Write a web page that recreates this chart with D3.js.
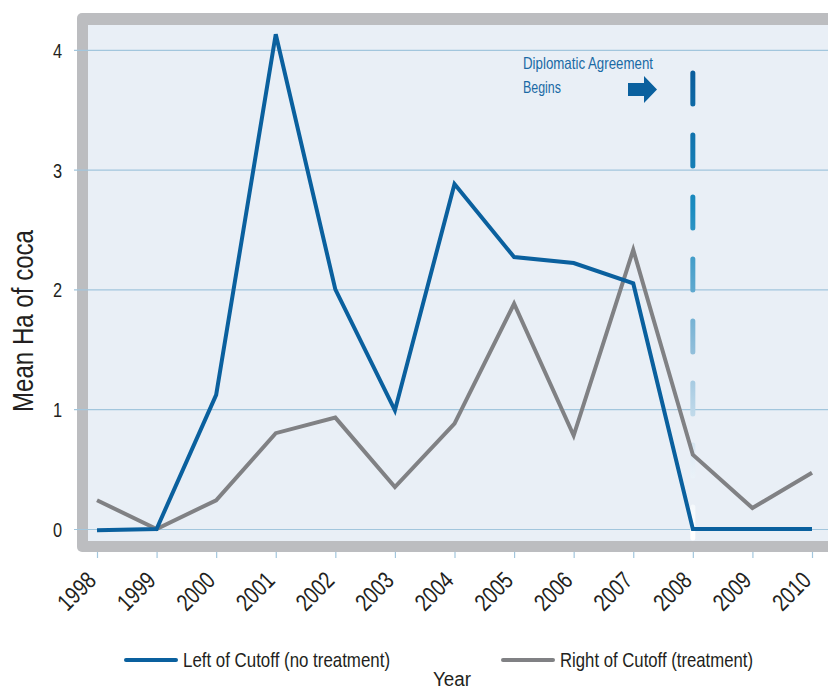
<!DOCTYPE html>
<html>
<head>
<meta charset="utf-8">
<script src="https://cdn.jsdelivr.net/npm/d3@7"></script>
<style>
  body { margin: 0; background: #fff; }
  svg { display: block; font-family: "Liberation Sans", Arial, sans-serif; }
</style>
</head>
<body>
<svg width="828" height="691"></svg>
<script>
const years = [1998, 1999, 2000, 2001, 2002, 2003, 2004, 2005, 2006, 2007, 2008, 2009, 2010];
const leftOfCutoff = [-0.01, 0, 1.12, 4.13, 2.0, 0.99, 2.88, 2.27, 2.22, 2.05, 0, 0, 0];
const rightOfCutoff = [0.24, 0, 0.24, 0.8, 0.93, 0.35, 0.88, 1.88, 0.78, 2.33, 0.62, 0.175, 0.47];
const yTicks = [0, 1, 2, 3, 4];
const seriesNames = ["Left of Cutoff (no treatment)", "Right of Cutoff (treatment)"];
const agreementYear = 2008;
const agreementLabel = ["Diplomatic Agreement", "Begins"];

const width = 828;
const height = 691;
const blue = "#0a609e";
const gray = "#808184";
const ink = "#231f20";

const svg = d3.select("svg");

// scales
const xScale = d3.scaleLinear().domain([1998, 2010]).range([97, 812]);
const yScale = d3.scaleLinear().domain([0, 4]).range([529, 49.8]);

// frame + background
svg.append("rect")
  .attr("x", 77).attr("y", 13)
  .attr("width", width).attr("height", 552 - 13)
  .attr("rx", 5)
  .attr("fill", "#bcbdc0");
svg.append("rect")
  .attr("x", 88).attr("y", 25)
  .attr("width", width).attr("height", 541 - 25)
  .attr("fill", "#e9eff6");

// y axis with gridlines
const yAxis = d3.axisLeft(yScale)
  .tickValues(yTicks)
  .tickFormat(d3.format("d"))
  .tickSize(-(width - 74));
const gy = svg.append("g")
  .attr("transform", "translate(74,0)")
  .call(yAxis);
gy.select(".domain").remove();
gy.selectAll("line").attr("stroke", "#a2c6dd").attr("stroke-width", 1.2);
gy.selectAll("text")
  .attr("fill", ink)
  .attr("x", 0)
  .attr("dy", "0.36em")
  .attr("text-anchor", "end")
  .attr("transform", "translate(-12,0) scale(0.78,1)")
  .style("font-size", "21px");

// x axis
const xAxis = d3.axisBottom(xScale)
  .tickValues(years)
  .tickFormat(d3.format("d"))
  .tickSize(6);
const gx = svg.append("g")
  .attr("transform", "translate(0,552)")
  .call(xAxis);
gx.select(".domain").remove();
gx.selectAll("line").attr("stroke", "#a2c6dd").attr("stroke-width", 1.2);
gx.selectAll("text")
  .attr("fill", ink)
  .style("font-size", "24px")
  .attr("text-anchor", "end")
  .attr("y", 0)
  .attr("dy", 0)
  .attr("transform", "translate(0,30) rotate(-45) scale(0.8,1)");

// dashed agreement line with fading gradient
const defs = svg.append("defs");
const grad = defs.append("linearGradient")
  .attr("id", "fade")
  .attr("gradientUnits", "userSpaceOnUse")
  .attr("x1", 0).attr("y1", 70)
  .attr("x2", 0).attr("y2", 532);
grad.append("stop").attr("offset", "0").attr("stop-color", "#0a5d9c");
grad.append("stop").attr("offset", "0.3").attr("stop-color", "#1a8cc0");
grad.append("stop").attr("offset", "0.6").attr("stop-color", "#8dbcd9");
grad.append("stop").attr("offset", "0.85").attr("stop-color", "#e4eef6");
grad.append("stop").attr("offset", "1").attr("stop-color", "#ffffff");

svg.append("line")
  .attr("x1", xScale(agreementYear)).attr("x2", xScale(agreementYear))
  .attr("y1", 73).attr("y2", 540)
  .attr("stroke", "url(#fade)")
  .attr("stroke-width", 5)
  .attr("stroke-linecap", "round")
  .attr("stroke-dasharray", "31 31");

// lines
const line = d3.line()
  .x((d, i) => xScale(years[i]))
  .y(d => yScale(d));

svg.append("path")
  .datum(rightOfCutoff)
  .attr("d", line)
  .attr("fill", "none")
  .attr("stroke", gray)
  .attr("stroke-width", 4);
svg.append("path")
  .datum(leftOfCutoff)
  .attr("d", line)
  .attr("fill", "none")
  .attr("stroke", blue)
  .attr("stroke-width", 4);

// annotation
const annWidths = [130, 38];
svg.selectAll("text.ann")
  .data(agreementLabel)
  .enter()
  .append("text")
  .attr("class", "ann")
  .attr("x", 523)
  .attr("y", (d, i) => 69 + i * 24)
  .attr("fill", "#1a6aa5")
  .attr("textLength", (d, i) => annWidths[i])
  .attr("lengthAdjust", "spacingAndGlyphs")
  .style("font-size", "16.5px")
  .text(d => d);

svg.append("path")
  .attr("d", "M628,83 L644,83 L644,76 L657,89.5 L644,103 L644,96 L628,96 Z")
  .attr("fill", blue);

// y title
svg.append("text")
  .attr("transform", "translate(33,321) rotate(-90)")
  .attr("text-anchor", "middle")
  .attr("fill", ink)
  .attr("textLength", 182)
  .attr("lengthAdjust", "spacingAndGlyphs")
  .style("font-size", "29px")
  .text("Mean Ha of coca");

// legend
const legendItems = [
  { name: seriesNames[0], color: blue, x: 126, w: 207 },
  { name: seriesNames[1], color: gray, x: 503, w: 193 }
];
const legend = svg.append("g");
legendItems.forEach(item => {
  legend.append("line")
    .attr("x1", item.x).attr("x2", item.x + 50)
    .attr("y1", 660).attr("y2", 660)
    .attr("stroke", item.color)
    .attr("stroke-width", 4)
    .attr("stroke-linecap", "round");
  legend.append("text")
    .attr("x", item.x + 57).attr("y", 667)
    .attr("fill", ink)
    .attr("textLength", item.w)
    .attr("lengthAdjust", "spacingAndGlyphs")
    .style("font-size", "21px")
    .text(item.name);
});

svg.append("text")
  .attr("x", 433).attr("y", 686)
  .attr("fill", ink)
  .attr("textLength", 38)
  .attr("lengthAdjust", "spacingAndGlyphs")
  .style("font-size", "20px")
  .text("Year");
</script>
</body>
</html>
